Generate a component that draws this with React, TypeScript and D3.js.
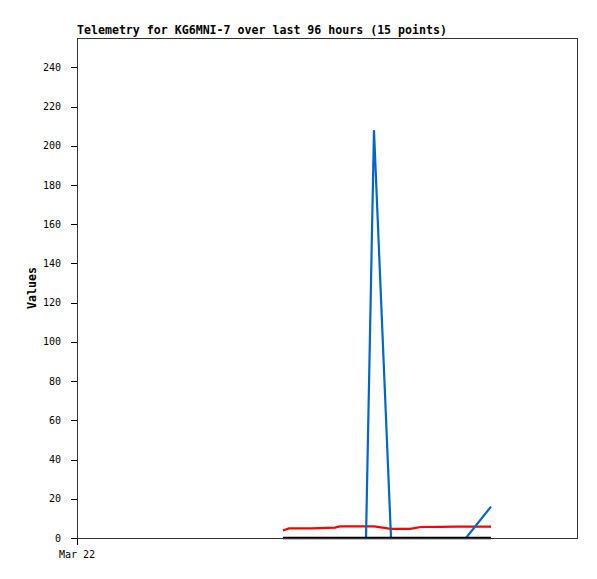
import React from "react";
import * as d3 from "d3";

const hours = [39.55, 40.7, 42.82, 45.12, 49.54, 50.5, 55.49, 57.02, 60.29, 63.94, 66.05, 69.7, 72.58, 74.69, 79.49];
const blackSeries = [0, 0, 0, 0, 0, 0, 0, 0, 0, 0, 0, 0, 0, 0, 0];
const redSeries = [3.8, 4.9, 4.95, 4.95, 5.3, 5.95, 5.95, 5.95, 4.7, 4.7, 5.6, 5.7, 5.8, 5.8, 5.8];
const blueSeries = [0, 0, 0, 0, 0, 0, 0, 208, 0, 0, 0, 0, 0, 0, 16];
const yTicks = [0, 20, 40, 60, 80, 100, 120, 140, 160, 180, 200, 220, 240];
const xTickHours = [0];
const xTickLabels = ["Mar 22"];
const title = "Telemetry for KG6MNI-7 over last 96 hours (15 points)";

export default function App() {
  const W = 597, H = 579;
  const left = 77, right = 577, top = 38, bottom = 538;
  const x = d3.scaleLinear().domain([0, 96]).range([left, right]);
  const y = d3.scaleLinear().domain([0, 255]).range([bottom, top]);
  const line = (vals: number[]) =>
    d3.line<number>().x((_, i) => x(hours[i])).y((v) => y(v))(vals) || "";
  const mono = "'DejaVu Sans Mono', 'Liberation Mono', monospace";
  return (
    <svg width={W} height={H} style={{ position: "absolute", left: 0, top: 0, background: "#fff" }}>
      <text x={left} y={34} fontFamily={mono} fontWeight="bold" fontSize={11.6} fill="#000">{title}</text>
      {yTicks.map((t) => (
        <g key={t}>
          <line x1={left - 6} x2={left} y1={Math.round(y(t)) + 0.5} y2={Math.round(y(t)) + 0.5} stroke="#000" />
          <text x={61} y={y(t)} dy="0.35em" textAnchor="end" fontFamily={mono} fontSize={10} fill="#000">{t}</text>
        </g>
      ))}
      {xTickHours.map((h, i) => (
        <g key={h}>
          <line x1={x(h) + 0.5} x2={x(h) + 0.5} y1={bottom} y2={bottom + 7} stroke="#000" />
          <text x={x(h)} y={558} textAnchor="middle" fontFamily={mono} fontSize={10} fill="#000">{xTickLabels[i]}</text>
        </g>
      ))}
      <text transform={`translate(36,${(top + bottom) / 2}) rotate(-90)`} textAnchor="middle" fontFamily={mono} fontWeight="bold" fontSize={11.6} fill="#000">Values</text>
      <path d={line(redSeries)} fill="none" stroke="#ff0000" strokeWidth={2.2} />
      <path d={line(blueSeries)} fill="none" stroke="#0066cc" strokeWidth={2.2} />
      <path d={line(blackSeries)} fill="none" stroke="#000" strokeWidth={2.5} />
      <rect x={left + 0.5} y={top + 0.5} width={right - left} height={bottom - top} fill="none" stroke="#333" />
    </svg>
  );
}
